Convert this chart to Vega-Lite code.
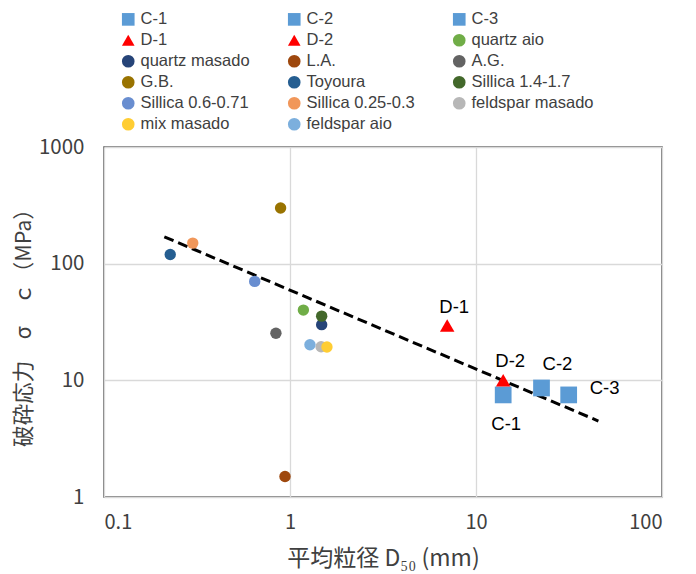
{
  "$schema": "https://vega.github.io/schema/vega-lite/v6.json",
  "width": 558,
  "height": 350,
  "autosize": {"type": "none"},
  "padding": {"left": 104, "top": 147, "right": 34, "bottom": 77},
  "background": "white",
  "config": {
    "view": {"stroke": "#595959", "strokeWidth": 1.5},
    "font": "Liberation Sans"
  },
  "datasets": {
    "pts": [
      {"name": "C-1", "d50": 14.0, "sigma": 7.5},
      {"name": "C-2", "d50": 22.5, "sigma": 8.6},
      {"name": "C-3", "d50": 31.5, "sigma": 7.5},
      {"name": "D-1", "d50": 7.0, "sigma": 29.5},
      {"name": "D-2", "d50": 14.0, "sigma": 10.0},
      {"name": "quartz aio", "d50": 1.18, "sigma": 40},
      {"name": "quartz masado", "d50": 1.48, "sigma": 30},
      {"name": "L.A.", "d50": 0.94, "sigma": 1.5},
      {"name": "A.G.", "d50": 0.84, "sigma": 25.3},
      {"name": "G.B.", "d50": 0.89, "sigma": 300},
      {"name": "Toyoura", "d50": 0.227, "sigma": 120},
      {"name": "Sillica 1.4-1.7", "d50": 1.48, "sigma": 35.5},
      {"name": "Sillica 0.6-0.71", "d50": 0.646, "sigma": 70.5},
      {"name": "Sillica 0.25-0.3", "d50": 0.30, "sigma": 150},
      {"name": "feldspar masado", "d50": 1.47, "sigma": 19.4},
      {"name": "mix masado", "d50": 1.58, "sigma": 19.3},
      {"name": "feldspar aio", "d50": 1.28, "sigma": 20.2}
    ],
    "trend": [
      {"d50": 0.211, "sigma": 170},
      {"d50": 45.5, "sigma": 4.48}
    ]
  },
  "layer": [
    {
      "data": {"name": "trend"},
      "mark": {"type": "line", "color": "black", "strokeWidth": 3, "strokeDash": [10, 5]},
      "encoding": {
        "x": {"field": "d50", "type": "quantitative"},
        "y": {"field": "sigma", "type": "quantitative"}
      }
    },
    {
      "data": {"name": "pts"},
      "mark": {"type": "point", "filled": true, "opacity": 1, "strokeWidth": 0},
      "encoding": {
        "x": {
          "field": "d50", "type": "quantitative",
          "scale": {"type": "log", "domain": [0.1, 100], "nice": false},
          "axis": {
            "values": [0.1, 1, 10, 100], "format": "~g",
            "title": "平均粒径 D₅₀ (mm)",
            "grid": true, "gridColor": "#D9D9D9", "gridWidth": 1.3,
            "domain": false, "ticks": false,
            "labelFont": "Noto Sans CJK JP", "labelFontSize": 20, "labelColor": "#404040",
            "labelPadding": 15,
            "titleFont": "Noto Sans CJK JP", "titleFontSize": 23, "titleFontWeight": "normal", "titleColor": "#404040",
            "titlePadding": 15
          }
        },
        "y": {
          "field": "sigma", "type": "quantitative",
          "scale": {"type": "log", "domain": [1, 1000], "nice": false},
          "axis": {
            "values": [1, 10, 100, 1000], "format": "~g",
            "title": "破砕応力　σ　ｃ（MPa）",
            "grid": true, "gridColor": "#D9D9D9", "gridWidth": 1.3,
            "domain": false, "ticks": false,
            "labelFont": "Noto Sans CJK JP", "labelFontSize": 20.5, "labelColor": "#404040",
            "labelPadding": 20,
            "titleFont": "Noto Sans CJK JP", "titleFontSize": 21.5, "titleFontWeight": "normal", "titleColor": "#404040",
            "titlePadding": 3
          }
        },
        "color": {
          "field": "name", "type": "nominal",
          "scale": {
            "domain": ["C-1", "C-2", "C-3", "D-1", "D-2", "quartz aio", "quartz masado", "L.A.", "A.G.", "G.B.", "Toyoura", "Sillica 1.4-1.7", "Sillica 0.6-0.71", "Sillica 0.25-0.3", "feldspar masado", "mix masado", "feldspar aio"],
            "range": ["#5B9BD5", "#5B9BD5", "#5B9BD5", "#FF0000", "#FF0000", "#70AD47", "#264478", "#9E480E", "#636363", "#997300", "#255E91", "#43682B", "#698ED0", "#F1975A", "#B7B7B7", "#FFCD33", "#7CAFDD"]
          },
          "legend": {
            "orient": "none", "legendX": 16, "legendY": -136,
            "direction": "horizontal",
            "columns": 3, "title": null,
            "labelFont": "Liberation Sans", "labelFontSize": 16.5, "labelColor": "#404040",
            "symbolSize": 160, "symbolStrokeWidth": 0, "symbolOpacity": 1,
            "rowPadding": 4, "columnPadding": 36, "labelOffset": 4,
            "labelLimit": 220
          }
        },
        "shape": {
          "field": "name", "type": "nominal",
          "scale": {
            "domain": ["C-1", "C-2", "C-3", "D-1", "D-2", "quartz aio", "quartz masado", "L.A.", "A.G.", "G.B.", "Toyoura", "Sillica 1.4-1.7", "Sillica 0.6-0.71", "Sillica 0.25-0.3", "feldspar masado", "mix masado", "feldspar aio"],
            "range": ["square", "square", "square", "triangle-up", "triangle-up", "circle", "circle", "circle", "circle", "circle", "circle", "circle", "circle", "circle", "circle", "circle", "circle"]
          }
        },
        "size": {
          "condition": [
            {"test": "indexof(['C-1','C-2','C-3'], datum.name) >= 0", "value": 280},
            {"test": "indexof(['D-1','D-2'], datum.name) >= 0", "value": 210}
          ],
          "value": 130
        }
      }
    },
    {
      "data": {"name": "pts"},
      "transform": [{"filter": "datum.name === 'D-1' || datum.name === 'D-2'"}],
      "mark": {"type": "text", "fontSize": 18.5, "font": "Liberation Sans", "color": "black", "baseline": "alphabetic", "align": "center", "dx": 7, "dy": -13},
      "encoding": {
        "x": {"field": "d50", "type": "quantitative"},
        "y": {"field": "sigma", "type": "quantitative"},
        "text": {"field": "name"}
      }
    },
    {
      "data": {"name": "pts"},
      "transform": [{"filter": "datum.name === 'C-2'"}],
      "mark": {"type": "text", "fontSize": 18.5, "font": "Liberation Sans", "color": "black", "baseline": "alphabetic", "align": "center", "dx": 16, "dy": -18},
      "encoding": {
        "x": {"field": "d50", "type": "quantitative"},
        "y": {"field": "sigma", "type": "quantitative"},
        "text": {"field": "name"}
      }
    },
    {
      "data": {"name": "pts"},
      "transform": [{"filter": "datum.name === 'C-3'"}],
      "mark": {"type": "text", "fontSize": 18.5, "font": "Liberation Sans", "color": "black", "baseline": "middle", "align": "left", "dx": 21, "dy": -7},
      "encoding": {
        "x": {"field": "d50", "type": "quantitative"},
        "y": {"field": "sigma", "type": "quantitative"},
        "text": {"field": "name"}
      }
    },
    {
      "data": {"name": "pts"},
      "transform": [{"filter": "datum.name === 'C-1'"}],
      "mark": {"type": "text", "fontSize": 18.5, "font": "Liberation Sans", "color": "black", "baseline": "top", "align": "center", "dx": 3, "dy": 20},
      "encoding": {
        "x": {"field": "d50", "type": "quantitative"},
        "y": {"field": "sigma", "type": "quantitative"},
        "text": {"field": "name"}
      }
    }
  ]
}
